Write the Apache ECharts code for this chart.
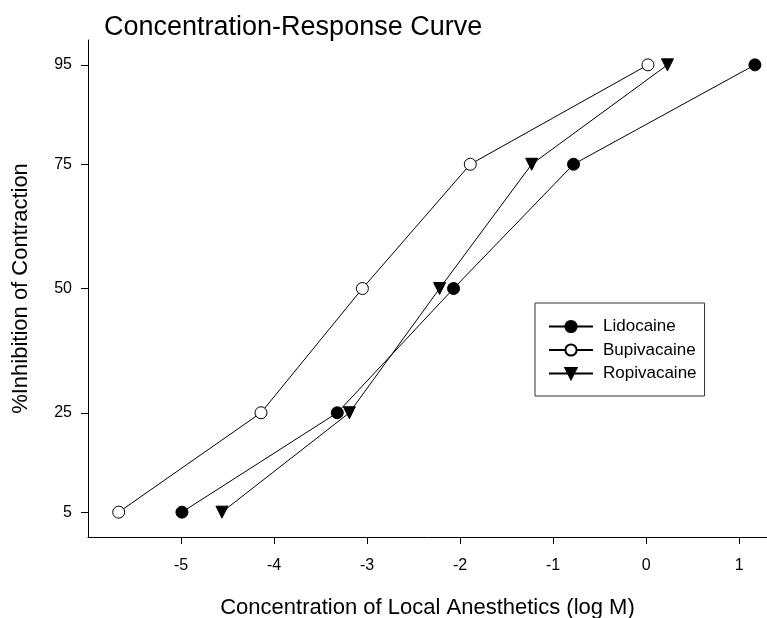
<!DOCTYPE html>
<html>
<head>
<meta charset="utf-8">
<script src="https://cdn.jsdelivr.net/npm/echarts@6/dist/echarts.min.js"></script>
<style>
html,body{margin:0;padding:0;background:#fff;}
#chart{width:767px;height:618px;}
</style>
</head>
<body>
<div id="chart"></div>
<script>
const responseLevels = [5, 25, 50, 75, 95];
const lidocaineLogM = [-4.99, -3.32, -2.07, -0.78, 1.17];
const bupivacaineLogM = [-5.67, -4.14, -3.05, -1.89, 0.02];
const ropivacaineLogM = [-4.56, -3.19, -2.22, -1.23, 0.23];
const xTickValues = [-5, -4, -3, -2, -1, 0, 1];
const yTickValues = [5, 25, 50, 75, 95];

function pairs(xs, ys) { return xs.map((x, i) => [x, ys[i]]); }

const FONT = '"Liberation Sans", Arial, sans-serif';
const chart = echarts.init(document.getElementById('chart'), null, {renderer: 'canvas'});

const baseSeries = {
  type: 'line',
  lineStyle: {color: '#000', width: 1},
  symbolSize: 12,
  showAllSymbol: true,
  animation: false,
  z: 3
};

chart.setOption({
  animation: false,
  backgroundColor: '#fff',
  title: {
    text: 'Concentration-Response Curve',
    left: 104, top: 14, padding: 0,
    textStyle: {fontFamily: FONT, fontSize: 27, fontWeight: 'normal', color: '#000'}
  },
  grid: {left: 88, top: 40, right: 0, bottom: 81, containLabel: false, outerBoundsMode: 'none'},
  legend: {
    orient: 'vertical',
    left: 535, top: 303,
    padding: [15, 8, 14, 13],
    itemWidth: 44, itemHeight: 14, itemGap: 6.5,
    backgroundColor: '#fff',
    borderColor: '#333', borderWidth: 1,
    textStyle: {fontFamily: FONT, fontSize: 17, color: '#000', padding: [0, 0, 0, 5]},
    data: ['Lidocaine', 'Bupivacaine', 'Ropivacaine']
  },
  xAxis: {
    type: 'value', min: -6, max: 1.3,
    name: 'Concentration of Local Anesthetics (log M)',
    nameLocation: 'middle', nameGap: 60,
    nameTextStyle: {fontFamily: FONT, fontSize: 22, color: '#000'},
    axisLine: {show: true, onZero: false, lineStyle: {color: '#000', width: 1}},
    axisTick: {show: true, length: 7, customValues: xTickValues, lineStyle: {color: '#000'}},
    axisLabel: {customValues: xTickValues, margin: 21, fontFamily: FONT, fontSize: 16, color: '#000'},
    splitLine: {show: false}
  },
  yAxis: {
    type: 'value', min: 0, max: 100,
    name: '%Inhibition of Contraction',
    nameLocation: 'middle', nameGap: 56,
    nameTextStyle: {fontFamily: FONT, fontSize: 22, color: '#000'},
    axisLine: {show: true, onZero: false, lineStyle: {color: '#000', width: 1}},
    axisTick: {show: true, length: 7, customValues: yTickValues, lineStyle: {color: '#000'}},
    axisLabel: {customValues: yTickValues, margin: 16, fontFamily: FONT, fontSize: 16, color: '#000'},
    splitLine: {show: false}
  },
  series: [
    Object.assign({}, baseSeries, {
      name: 'Lidocaine', symbol: 'circle',
      itemStyle: {color: '#000', borderColor: '#000', borderWidth: 1},
      data: pairs(lidocaineLogM, responseLevels)
    }),
    Object.assign({}, baseSeries, {
      name: 'Bupivacaine', symbol: 'circle',
      itemStyle: {color: '#fff', borderColor: '#000', borderWidth: 1},
      data: pairs(bupivacaineLogM, responseLevels)
    }),
    Object.assign({}, baseSeries, {
      name: 'Ropivacaine', symbol: 'triangle', symbolRotate: 180,
      itemStyle: {color: '#000', borderColor: '#000', borderWidth: 1},
      data: pairs(ropivacaineLogM, responseLevels)
    })
  ]
});
</script>
</body>
</html>
